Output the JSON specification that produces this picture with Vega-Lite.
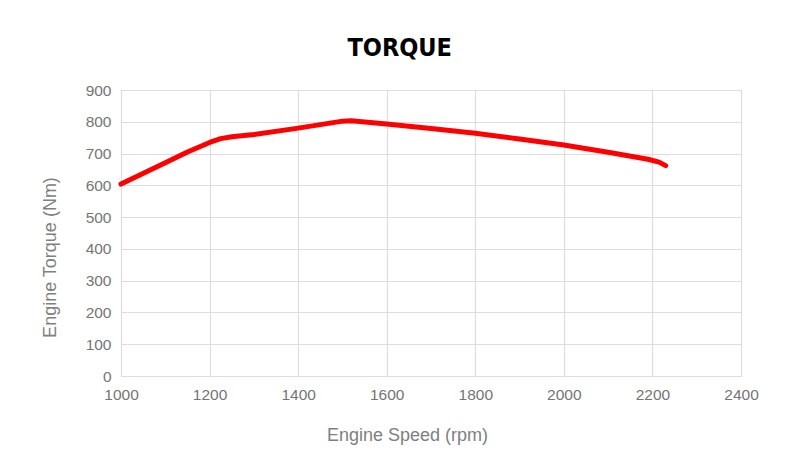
{
  "$schema": "https://vega.github.io/schema/vega-lite/v6.json",
  "width": 620,
  "height": 286,
  "autosize": "none",
  "padding": {"left": 121, "top": 90, "right": 51, "bottom": 92},
  "background": "#ffffff",
  "title": {
    "text": "TORQUE",
    "font": "'DejaVu Sans Condensed', 'Liberation Sans Narrow', sans-serif",
    "fontSize": 25,
    "fontWeight": "bold",
    "color": "#000000",
    "anchor": "middle",
    "frame": "bounds",
    "offset": 22,
    "dx": 0
  },
  "config": {
    "view": {"stroke": "#c8c8c8", "strokeDash": [3, 2], "strokeWidth": 1},
    "axis": {
      "grid": true,
      "gridColor": "#dddddd",
      "gridWidth": 1.2,
      "domain": false,
      "ticks": false,
      "labelFlush": false,
      "labelFont": "Liberation Sans",
      "labelFontSize": 15.5,
      "labelColor": "#757575",
      "titleFont": "Liberation Sans",
      "titleFontSize": 18,
      "titleFontWeight": "normal",
      "titleColor": "#808080"
    }
  },
  "data": {
    "values": [
      {"rpm": 1000, "torque": 604},
      {"rpm": 1100, "torque": 671},
      {"rpm": 1150, "torque": 705},
      {"rpm": 1200, "torque": 735},
      {"rpm": 1225, "torque": 747},
      {"rpm": 1250, "torque": 753},
      {"rpm": 1300, "torque": 760},
      {"rpm": 1400, "torque": 780},
      {"rpm": 1500, "torque": 802},
      {"rpm": 1520, "torque": 803},
      {"rpm": 1600, "torque": 793},
      {"rpm": 1700, "torque": 779},
      {"rpm": 1800, "torque": 764},
      {"rpm": 1900, "torque": 746},
      {"rpm": 2000, "torque": 727},
      {"rpm": 2100, "torque": 704},
      {"rpm": 2190, "torque": 682},
      {"rpm": 2215, "torque": 673},
      {"rpm": 2230, "torque": 662}
    ]
  },
  "mark": {"type": "line", "color": "#ff0000", "strokeWidth": 5, "strokeCap": "round", "strokeJoin": "round", "interpolate": "linear"},
  "encoding": {
    "x": {
      "field": "rpm",
      "type": "quantitative",
      "scale": {"domain": [1000, 2400], "nice": false},
      "axis": {"values": [1000, 1200, 1400, 1600, 1800, 2000, 2200, 2400], "format": "d", "labelPadding": 11, "title": "Engine Speed (rpm)", "titleX": 286, "titlePadding": 24}
    },
    "y": {
      "field": "torque",
      "type": "quantitative",
      "scale": {"domain": [0, 900], "nice": false},
      "axis": {"values": [0, 100, 200, 300, 400, 500, 600, 700, 800, 900], "format": "d", "labelPadding": 10, "title": "Engine Torque (Nm)", "titleY": 167, "titlePadding": 26}
    }
  }
}
